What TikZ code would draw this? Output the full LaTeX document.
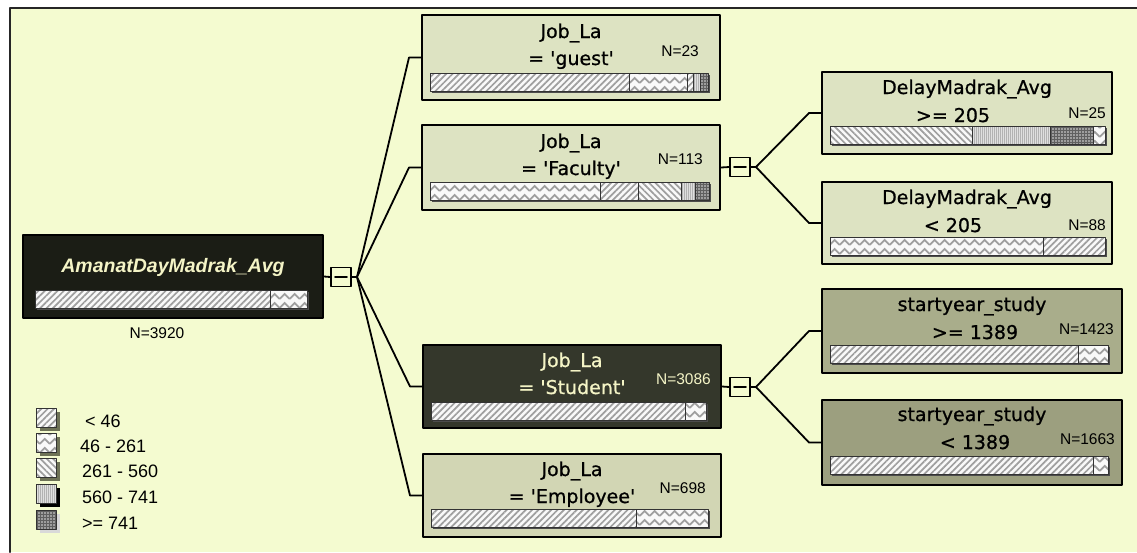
\documentclass[tikz,border=0pt]{standalone}
\usepackage{fontspec}
\newfontfamily\boxfont[FakeBold=0.8]{DejaVu Sans}
\newfontfamily\arialfont{Liberation Sans}
\usetikzlibrary{calc}
\usetikzlibrary{patterns}
\usetikzlibrary{patterns.meta}

\definecolor{bgcol}{HTML}{F4FBD0}
\definecolor{lightfill}{HTML}{DDE3C2}
\definecolor{empfill}{HTML}{D2D6B4}
\definecolor{oliveA}{HTML}{A9AD8B}
\definecolor{oliveB}{HTML}{9C9F7F}
\definecolor{darkA}{HTML}{1B1D15}
\definecolor{darkB}{HTML}{34372B}
\definecolor{creamtext}{HTML}{F4F4C6}
\definecolor{shadowcol}{HTML}{6E7256}

\pgfdeclarepatternformonly{zigzag}{\pgfpointorigin}{\pgfqpoint{10pt}{9pt}}{\pgfqpoint{10pt}{9pt}}{%
  \pgfsetlinewidth{1.9pt}
  \pgfsetmiterjoin
  \pgfpathmoveto{\pgfqpoint{-1pt}{1.5pt}}
  \pgfpathlineto{\pgfqpoint{0pt}{1.5pt}}
  \pgfpathlineto{\pgfqpoint{5pt}{6.5pt}}
  \pgfpathlineto{\pgfqpoint{10pt}{1.5pt}}
  \pgfpathlineto{\pgfqpoint{11pt}{1.5pt}}
  \pgfusepath{stroke}}

\tikzset{
  treebox/.style = {draw = black, line width = 2pt, rectangle, inner sep = 0pt},
  lightbox/.style = {treebox, fill = lightfill},
  ltxt/.style = {font = \boxfont\fontsize{19}{19}\selectfont, anchor = base,
    inner sep = 0pt},
  dtxt/.style = {ltxt, text = creamtext},
  nlbl/.style = {font = \arialfont\fontsize{15.5}{15.5}\selectfont,
    anchor = base east, inner sep = 0pt},
  conn/.style = {line width = 1.8pt},
  minusbox/.style = {draw, line width = 1.6pt, fill = bgcol, minimum width = 20,
    minimum height = 19, inner sep = 0pt},
  barline/.style = {draw = black!80, line width = .6pt},
  pdiag/.style = {preaction = {fill = gray!5},
    pattern = {Lines[angle = 45, distance = 4.5pt, line width = 1.7pt]},
    pattern color = gray!75},
  panti/.style = {preaction = {fill = gray!5},
    pattern = {Lines[angle = -45, distance = 4.5pt, line width = 1.7pt]},
    pattern color = gray!75},
  pzig/.style = {preaction = {fill = gray!5}, pattern = zigzag,
    pattern color = gray!75},
  pfine/.style = {preaction = {fill = gray!25},
    pattern = {Lines[angle = 90, distance = 2pt, line width = .6pt]},
    pattern color = gray!60},
  pcheck/.style = {preaction = {fill = gray!75!black},
    pattern = {Dots[distance = 3pt, radius = .8pt]},
    pattern color = gray!25}
}

% bar: top y, left x, right x, segments
\newcommand{\distbar}[4]{%
  \fill[black!70] (#2+2,#1+2) rectangle (#3+2,#1+20);
  \foreach \xa/\xb/\pat in {#4} {
    \fill[\pat] (\xa,#1) rectangle (\xb,#1+18);
    \draw[barline] (\xa,#1) rectangle (\xb,#1+18);
  }}

\begin{document}
\begin{tikzpicture}[x = 1pt, y = -1pt, line join = round, line cap = round]
  \useasboundingbox (0, 0) rectangle (1137, 552);
  \fill[white] (0, 0) rectangle (1137, 552);
  \fill[bgcol] (10, 8) rectangle (1137, 552);
  \draw[line width = 2pt, black!85] (10, 552) -- (10, 8) -- (1137, 8);

  % boxes
  \node[treebox, fill = darkA, minimum width = 300, minimum height = 83] (root)
  at (173, 276.5) {};
  \node[lightbox, minimum width = 298, minimum height = 85] (guest)
  at (571, 57.5) {};
  \node[lightbox, minimum width = 298, minimum height = 85] (faculty)
  at (571, 167.5) {};
  \node[treebox, fill = darkB, minimum width = 298, minimum height = 83] (student)
  at (572, 386.5) {};
  \node[treebox, fill = empfill, minimum width = 298, minimum height = 83] (employee)
  at (572, 495.5) {};
  \node[lightbox, minimum width = 290, minimum height = 82] (delayge)
  at (967, 113) {};
  \node[lightbox, minimum width = 290, minimum height = 82] (delaylt)
  at (967, 223) {};
  \node[treebox, fill = oliveA, minimum width = 300, minimum height = 84] (startge)
  at (972, 331) {};
  \node[treebox, fill = oliveB, minimum width = 300, minimum height = 85] (startlt)
  at (972, 442.5) {};

  % collapse boxes and connectors
  \node[minusbox] (rootcol) at (341, 277) {};
  \node[minusbox] (faccol) at (740, 167) {};
  \node[minusbox] (studcol) at (740, 387) {};
  \coordinate (rootfork) at (357, 277);
  \coordinate (facfork) at (756, 167);
  \coordinate (studfork) at (756, 387);

  \foreach \colbox in {rootcol, faccol, studcol}
    \draw[line width = 1.6pt] ($(\colbox.center) + (-6, 0)$) -- ($(\colbox.center) + (6, 0)$);

  \draw[conn] (root.east) -- (rootcol.west);
  \draw[conn] (rootcol.east) -- (rootfork);
  \draw[conn] (faculty.east) -- (faccol.west);
  \draw[conn] (faccol.east) -- (facfork);
  \draw[conn] (student.east) -- (studcol.west);
  \draw[conn] (studcol.east) -- (studfork);
  \foreach \kid in {guest, faculty, student, employee}
    \draw[conn] (rootfork) -- ($(\kid.west) + (-12, 0)$) -- (\kid.west);
  \foreach \kid in {delayge, delaylt}
    \draw[conn] (facfork) -- ($(\kid.west) + (-12, 0)$) -- (\kid.west);
  \foreach \kid in {startge, startlt}
    \draw[conn] (studfork) -- ($(\kid.west) + (-12, 0)$) -- (\kid.west);

  % root
  \node[font = \arialfont\bfseries\itshape\fontsize{19.5}{19.5}\selectfont,
  text = creamtext, anchor = base, inner sep = 0pt] (rootA)
  at ($(root.north) + (0, 38)$) {AmanatDayMadrak\_Avg};
  \distbar{290}{35}{307}{35/270/pdiag, 270/307/pzig}
  \node[nlbl, anchor = base, font = \arialfont\fontsize{15.5}{15.5}\selectfont]
  (rootN) at (157, 338) {N=3920};

  % first level
  \node[ltxt] (guestA) at ($(guest.north) + (0, 24)$) {Job\_La};
  \node[ltxt] (guestB) at ($(guest.north) + (0, 51)$)
  {= \textquotesingle guest\textquotesingle};
  \node[nlbl] (guestN) at ($(guest.north east) + (-22, 42)$) {N=23};
  \distbar{73}{430}{708}{430/629/pdiag, 629/687/pzig, 687/693/pdiag,
    693/700/pfine, 700/708/pcheck}

  \node[ltxt] (facultyA) at ($(faculty.north) + (0, 24)$) {Job\_La};
  \node[ltxt] (facultyB) at ($(faculty.north) + (0, 51)$)
  {= \textquotesingle Faculty\textquotesingle};
  \node[nlbl] (facultyN) at ($(faculty.north east) + (-18, 40)$) {N=113};
  \distbar{182}{430}{709}{430/600/pzig, 600/638/pdiag, 638/681/panti,
    681/695/pfine, 695/709/pcheck}

  \node[dtxt] (studentA) at ($(student.north) + (0, 23)$) {Job\_La};
  \node[dtxt] (studentB) at ($(student.north) + (0, 50)$)
  {= \textquotesingle Student\textquotesingle};
  \node[nlbl, text = creamtext] (studentN) at ($(student.north east) + (-11, 40)$)
  {N=3086};
  \distbar{402}{431}{706}{431/685/pdiag, 685/706/pzig}

  \node[ltxt] (employeeA) at ($(employee.north) + (0, 23)$) {Job\_La};
  \node[ltxt] (employeeB) at ($(employee.north) + (0, 50)$)
  {= \textquotesingle Employee\textquotesingle};
  \node[nlbl] (employeeN) at ($(employee.north east) + (-16, 40)$) {N=698};
  \distbar{509}{431}{708}{431/636/pdiag, 636/708/pzig}

  % second level
  \node[ltxt] (delaygeA) at ($(delayge.north) + (0, 23)$) {DelayMadrak\_Avg};
  \node[ltxt] (delaygeB) at ($(delayge.north) + (-14, 51)$) {>= 205};
  \node[nlbl] (delaygeN) at ($(delayge.north east) + (-7, 47)$) {N=25};
  \distbar{126}{830}{1105}{830/972/panti, 972/1050/pfine, 1050/1093/pcheck,
    1093/1105/pzig}

  \node[ltxt] (delayltA) at ($(delaylt.north) + (0, 23)$) {DelayMadrak\_Avg};
  \node[ltxt] (delayltB) at ($(delaylt.north) + (-14, 51)$) {< 205};
  \node[nlbl] (delayltN) at ($(delaylt.north east) + (-7, 49)$) {N=88};
  \distbar{237}{830}{1105}{830/1043/pzig, 1043/1105/pdiag}

  \node[ltxt] (startgeA) at ($(startge.north) + (0, 23)$) {startyear\_study};
  \node[ltxt] (startgeB) at ($(startge.north) + (3, 51)$) {>= 1389};
  \node[nlbl] (startgeN) at ($(startge.north east) + (-9, 46)$) {N=1423};
  \distbar{345}{830}{1108}{830/1078/pdiag, 1078/1108/pzig}

  \node[ltxt] (startltA) at ($(startlt.north) + (0, 22)$) {startyear\_study};
  \node[ltxt] (startltB) at ($(startlt.north) + (3, 50)$) {< 1389};
  \node[nlbl] (startltN) at ($(startlt.north east) + (-8, 45)$) {N=1663};
  \distbar{456}{830}{1108}{830/1093/pdiag, 1093/1108/pzig}

  % legend
  \foreach \yy/\pat/\shd/\xx/\lab [count = \i] in {408/pdiag/shadowcol/85/{< 46},
    433/pzig/shadowcol/80/{46 - 261}, 458/panti/shadowcol/82/{261 - 560},
    484/pfine/black/82/{560 - 741}, 510/pcheck/gray!30/82/{>= 741}} {
    \fill[\shd] (40, \yy + 4) rectangle (60, \yy + 23);
    \fill[\pat] (36, \yy) rectangle (56, \yy + 19);
    \draw[barline] (36, \yy) rectangle (56, \yy + 19);
    \node[font = \arialfont\fontsize{18}{18}\selectfont, anchor = base west,
    inner sep = 0pt] (leg\i) at (\xx, \yy + 19) {\lab};
  }
\end{tikzpicture}
\end{document}
